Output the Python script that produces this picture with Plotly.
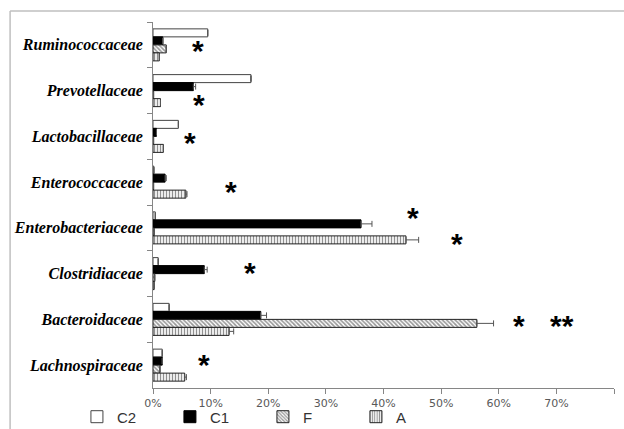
import plotly.graph_objects as go

categories = ["Ruminococcaceae", "Prevotellaceae", "Lactobacillaceae", "Enterococcaceae",
              "Enterobacteriaceae", "Clostridiaceae", "Bacteroidaceae", "Lachnospiraceae"]
series_names = ["C2", "C1", "F", "A"]

c2_values = [9.5, 17.0, 4.4, 0.15, 0.4, 0.9, 2.8, 1.6]
c1_values = [1.7, 7.0, 0.6, 2.1, 36.1, 8.9, 18.7, 1.6]
f_values = [2.3, 0.1, 0.1, 0.1, 0.2, 0.3, 56.2, 1.2]
a_values = [1.1, 1.3, 1.8, 5.7, 43.9, 0.2, 13.2, 5.5]

c2_err = [None, None, None, None, None, None, None, None]
c1_err = [None, 0.4, None, 0.2, 1.9, 0.5, 1.0, None]
f_err = [None, None, None, None, None, None, 2.9, None]
a_err = [None, None, None, 0.2, 2.2, None, 0.8, 0.3]

# significance marks: (text, x value in %, category index offset)
sig_text = ["*", "*", "*", "*", "*", "*", "*", "*", "**", "*"]
sig_x = [7.8, 8.0, 6.4, 13.5, 45.1, 52.8, 16.8, 63.5, 71.0, 8.9]
sig_y = [0.05, 1.23, 2.06, 3.13, 3.70, 4.27, 4.92, 6.06, 6.06, 6.93]

x_ticks = [0, 10, 20, 30, 40, 50, 60, 70, 80]
x_tick_labels = [f"{t}%" for t in x_ticks]

styles = {
    "C2": dict(color="white", line=dict(color="#444444", width=1), pattern=dict(shape="")),
    "C1": dict(color="black", line=dict(color="black", width=1), pattern=dict(shape="")),
    "F": dict(color="white", line=dict(color="#222222", width=1),
              pattern=dict(shape="\\", fgcolor="#333333", bgcolor="white", size=3, solidity=0.55)),
    "A": dict(color="white", line=dict(color="#222222", width=1),
              pattern=dict(shape="|", fgcolor="#222222", bgcolor="white", size=3, solidity=0.45)),
}

fig = go.Figure()
for name, vals, errs in zip(series_names, [c2_values, c1_values, f_values, a_values],
                            [c2_err, c1_err, f_err, a_err]):
    fig.add_trace(go.Bar(
        name=name, y=categories, x=vals, orientation="h",
        marker=styles[name],
        error_x=dict(type="data", array=errs, visible=True, color="#555555",
                     thickness=1, width=3, symmetric=False, arrayminus=[None] * len(errs)),
    ))

for t, xv, yv in zip(sig_text, sig_x, sig_y):
    fig.add_annotation(x=xv, y=yv, xref="x", yref="y", text=t, showarrow=False,
                       font=dict(family="Liberation Sans", size=30, color="#000000", weight="bold"),
                       yshift=-3)

# outer chart border (left and top)
fig.add_shape(type="line", xref="paper", yref="paper", x0=-0.310, x1=1.1, y0=1.030, y1=1.030,
              line=dict(color="#bfbfbf", width=1.5))
fig.add_shape(type="line", xref="paper", yref="paper", x0=-0.310, x1=-0.310, y0=1.030, y1=-0.2,
              line=dict(color="#bfbfbf", width=1.5))

fig.update_layout(
    width=624, height=429,
    margin=dict(l=153, r=10, t=22, b=41, autoexpand=False),
    paper_bgcolor="white", plot_bgcolor="white",
    barmode="group", bargap=0.3, bargroupgap=0,
    showlegend=True,
    legend=dict(orientation="h", x=-0.165, y=-0.034, xanchor="left", yanchor="top",
                entrywidth=48, entrywidthmode="pixels", traceorder="normal",
                font=dict(family="Liberation Sans", size=15, color="#333333"),
                bgcolor="rgba(0,0,0,0)"),
    xaxis=dict(range=[0, 80], tickvals=x_ticks, ticktext=x_tick_labels,
               showgrid=False, zeroline=False, showline=True, linecolor="#868686",
               ticks="outside", ticklen=5, tickcolor="#868686",
               tickfont=dict(family="DejaVu Sans", size=11, color="#595959")),
    yaxis=dict(autorange="reversed", showgrid=False, showline=True, linecolor="#868686",
               ticks="outside", ticklen=5, tickcolor="#868686", tickson="boundaries",
               ticklabelstandoff=6,
               tickfont=dict(family="Liberation Serif", size=16, color="black", weight="bold",
                             style="italic")),
    font=dict(family="Liberation Sans"),
)

fig.write_html("out.html", config={"displayModeBar": False},
               post_script="document.body.style.margin='0px';")
